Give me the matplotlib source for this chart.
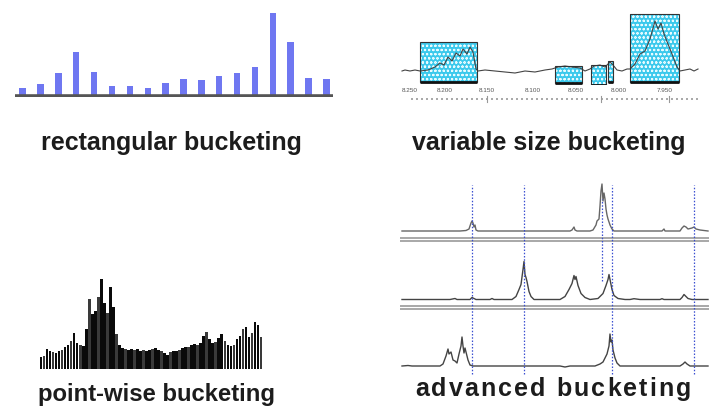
import matplotlib
matplotlib.use("Agg")
import matplotlib.pyplot as plt
from matplotlib.patches import Rectangle

# ---------------- data ----------------
# rectangular bucketing: bucket intensities
rect_heights = [7.7, 12.3, 23, 44.3, 23.7, 9.7, 9.7, 7.7, 12.7, 17, 16.3, 20, 23, 28.7, 83, 54.3, 18.3, 17]

# variable size bucketing: spectrum (shift units, intensity)
var_x = [2, 5, 10, 15, 20, 28, 35, 40, 44, 48, 52, 56, 60, 63, 67, 70, 73, 76, 78,
         85, 95, 105, 115, 125, 135, 145, 152, 158, 165, 172, 180, 185, 190, 194, 200,
         205, 210, 213, 217, 222, 227, 230, 235, 240, 245, 250, 255, 258, 261, 264, 268,
         272, 277, 280, 285, 290, 294, 298]
var_y = [0, 1, 0, 1, 0, 1, 4, 8, 6, 14, 10, 18, 15, 22, 17, 24, 19, 2, 0,
         1, 0, -1, -2, 0, -1, 1, 2, 4, 5, 4, 3, 0, 2, 5, 6,
         4, 9, 6, 1, 0, 2, 2, 7, 17, 20, 32, 50, 42, 48, 37, 27,
         17, 4, 0, 1, 2, 0, 2]
# variable-size buckets: left, right, top, bottom
bucket_left = [20, 155, 191, 208, 230]
bucket_right = [77, 182, 206, 213, 279]
bucket_top = [29, 5, 6, 10, 57]
bucket_bottom = [-11, -12, -14, -11, -11]
var_tick_pos = [10, 45, 87, 133, 176, 219, 265]
var_tick_labels = ["8.250", "8.200", "8.150", "8.100", "8.050", "8.000", "7.950"]

# point-wise bucketing: one value per data point
point_heights = [12, 13, 20, 18, 17, 16, 18, 19, 22, 24, 28, 36, 26, 24, 23, 40, 70, 55,
                 58, 72, 90, 66, 56, 82, 62, 35, 24, 21, 20, 19, 20, 19, 20, 18, 19, 18,
                 19, 20, 21, 19, 18, 16, 14, 17, 18, 18, 19, 21, 22, 22, 24, 25, 24, 26,
                 33, 37, 30, 26, 27, 31, 35, 28, 24, 23, 24, 30, 33, 40, 42, 32, 36, 47,
                 44, 32]

# advanced bucketing: three aligned spectra
adv1_x = [2, 30, 60, 66, 69, 71, 72, 73, 74, 75, 76, 78, 90, 130, 170, 172, 174, 175, 177,
          190, 193, 196, 197, 199, 200, 201, 202, 203, 204, 205, 206, 207, 208, 210, 212,
          214, 240, 262, 264, 265, 280, 282, 284, 286, 288, 292, 294, 296, 300, 308]
adv1_y = [0, 0, 0, 0.5, 2, 8, 10, 8, 4, 6, 1, 0, 0, 0, 0, 1, 4, 1, 0,
          0, 1, 6, 10, 12, 25, 40, 47, 30, 38, 32, 22, 16, 12, 6, 2,
          0, 0, 0, 2, 0, 0, 3, 5, 4, 2, 3, 4, 2, 1, 0]
adv2_x = [2, 50, 55, 57, 70, 72, 74, 76, 90, 92, 94, 112, 116, 119, 121, 123, 124, 125, 126,
          127, 129, 131, 134, 160, 165, 169, 172, 174, 175, 176, 178, 181, 185, 190, 198,
          203, 206, 208, 209, 210, 212, 214, 218, 225, 230, 234, 240, 260, 262, 264, 280,
          282, 284, 286, 288, 292, 308]
adv2_y = [0, 0, 1, 0, 0, 2, 1, 0, 0, 1, 0, 0, 3, 10, 15, 30, 38, 25, 22,
          18, 8, 3, 0, 0, 3, 10, 16, 24, 20, 23, 14, 6, 2, 0, 1,
          6, 14, 20, 25, 20, 10, 4, 1, 0, 0, 0.8, 0, 0, 0.8, 0, 0,
          2, 5, 3, 1, 0, 0]
adv3_x = [2, 8, 12, 40, 43, 46, 48, 49, 51, 53, 55, 57, 59, 61, 62, 63, 64, 65, 66, 68, 70,
          73, 80, 160, 165, 170, 195, 200, 203, 205, 207, 209, 210, 211, 212, 213, 215, 217,
          220, 280, 283, 285, 287, 290, 308]
adv3_y = [0, 0.5, 0, 0, 2, 10, 17, 12, 14, 6, 5, 3, 12, 20, 29, 20, 13, 18, 14, 6, 1,
          0, 0, 0, -1, 0, 0, 2, 4, 8, 12, 20, 32, 24, 26, 16, 8, 3,
          0, 0, 2, 4, 2, 0, 0]
adv_bucket_edges = [72, 124, 212, 294]

titles = ["rectangular bucketing", "variable size bucketing",
          "point-wise bucketing", "advanced bucketing"]

# ---------------- figure ----------------
W, H = 709, 414
fig = plt.figure(figsize=(W / 100, H / 100), dpi=100)
plt.rcParams["hatch.linewidth"] = 0.5
FONT = "Liberation Sans"


def px_axes(l, t, r, b):
    ax = fig.add_axes([l / W, 1 - b / H, (r - l) / W, (b - t) / H])
    ax.set_axis_off()
    return ax


# --- panel 1: rectangular bucketing ---
ax1 = px_axes(15, 10, 333, 98)
idx = list(range(len(rect_heights)))
ax1.bar(idx, rect_heights, width=0.36, color="#6f77f1", zorder=2)
ax1.plot([-0.43, 17.37], [0, 0], color="#555555", lw=2.6, solid_capstyle="round", zorder=3)
ax1.set_xlim(-0.43, 17.37)
ax1.set_ylim(-1, 87)

# --- panel 2: variable size bucketing ---
ax2 = px_axes(400, 10, 700, 86)
ax2.set_xlim(0, 300)
ax2.set_ylim(-14, 62)
for l, r, t, b in zip(bucket_left, bucket_right, bucket_top, bucket_bottom):
    ax2.add_patch(Rectangle((l, b), r - l, t - b, facecolor="#3cc9ec",
                            edgecolor="#e8fbff", hatch="oooo", lw=0, zorder=1))
    ax2.add_patch(Rectangle((l, b), r - l, t - b, facecolor="none",
                            edgecolor="#333333", lw=0.8, zorder=3))
    ax2.plot([l, r], [b, b], color="#111111", lw=2, zorder=3, solid_capstyle="butt")
ax2.plot(var_x, var_y, color="#444444", lw=0.8, zorder=2)
for p, lab in zip(var_tick_pos, var_tick_labels):
    ax2.text(p, -15.5, lab, fontsize=4.6, color="#555555", ha="center", va="top",
             family=FONT, clip_on=False)
# faint ruler under the axis
ruler = px_axes(400, 99, 700, 101)
ruler.set_xlim(0, 300)
ruler.set_ylim(0, 1)
dots = list(range(12, 300, 5))
ruler.scatter(dots, [0.5] * len(dots), s=0.6, color="#aaaaaa", marker="s", lw=0)
for p in [87, 201, 269]:
    ruler.plot([p, p], [-1, 2], color="#999999", lw=0.8, clip_on=False)

# --- panel 3: point-wise bucketing ---
ax3 = px_axes(39.5, 275, 262.5, 370)
pidx = list(range(len(point_heights)))
cols = ["#0a0a0a" if i % 3 != 1 else "#3a3a3a" for i in pidx]
ax3.bar(pidx, point_heights, width=0.88, color=cols, zorder=2)
ax3.set_xlim(-0.5, len(point_heights) - 0.5)
ax3.set_ylim(0, 95)

# --- panel 4: advanced bucketing ---
ax4 = px_axes(400, 183, 709, 378)
ax4.set_xlim(0, 309)
ax4.set_ylim(0, 195)
offsets = [146, 77.5, 11]
for xs, ys, off, c in zip([adv1_x, adv2_x, adv3_x], [adv1_y, adv2_y, adv3_y],
                          offsets, ["#666666", "#444444", "#444444"]):
    ax4.plot(xs, [off + v for v in ys], color=c, lw=1.0, zorder=3)
for off in offsets[:2]:
    for d in (-6.5, -9.5):
        ax4.axhline(off + d, color="#9a9a9a", lw=1.2, zorder=1)
for e in adv_bucket_edges:
    ax4.plot([e, e], [3, 192], color="#3a4fd0", lw=0.9, ls=(0, (1.2, 1.4)), zorder=4)
ax4.plot([202, 202], [96, 178], color="#3a4fd0", lw=0.9, ls=(0, (1.2, 1.4)), zorder=4)

# --- titles ---
renderer = fig.canvas.get_renderer()


def text_width(s, **kw):
    t = fig.text(0, 0, s, **kw)
    w = t.get_window_extent(renderer).width
    t.remove()
    return w


def spaced_text(cx, y, s, spacing, **kw):
    ref = text_width("x", **kw)
    widths = [text_width(s[:k] + "x", **kw) - ref for k in range(len(s) + 1)]
    total = widths[-1] + spacing * (len(s) - 1)
    x0 = cx - total / 2
    for k, ch in enumerate(s):
        if ch == " ":
            continue
        fig.text((x0 + widths[k] + spacing * k) / W, 1 - y / H, ch, ha="left",
                 va="baseline", **kw)


tkw = dict(fontsize=18, fontweight="bold", family=FONT, color="#1c1c1c")
fig.text(171 / W, 1 - 150 / H, titles[0], ha="center", va="baseline", **tkw)
fig.text(548.5 / W, 1 - 150 / H, titles[1], ha="center", va="baseline", **tkw)
fig.text(156.5 / W, 1 - 401 / H, titles[2], ha="center", va="baseline",
         **dict(tkw, fontsize=17.2))
spaced_text(553, 396, titles[3], 2.1, **tkw)

fig.savefig("out.png", dpi=100, facecolor="white")
